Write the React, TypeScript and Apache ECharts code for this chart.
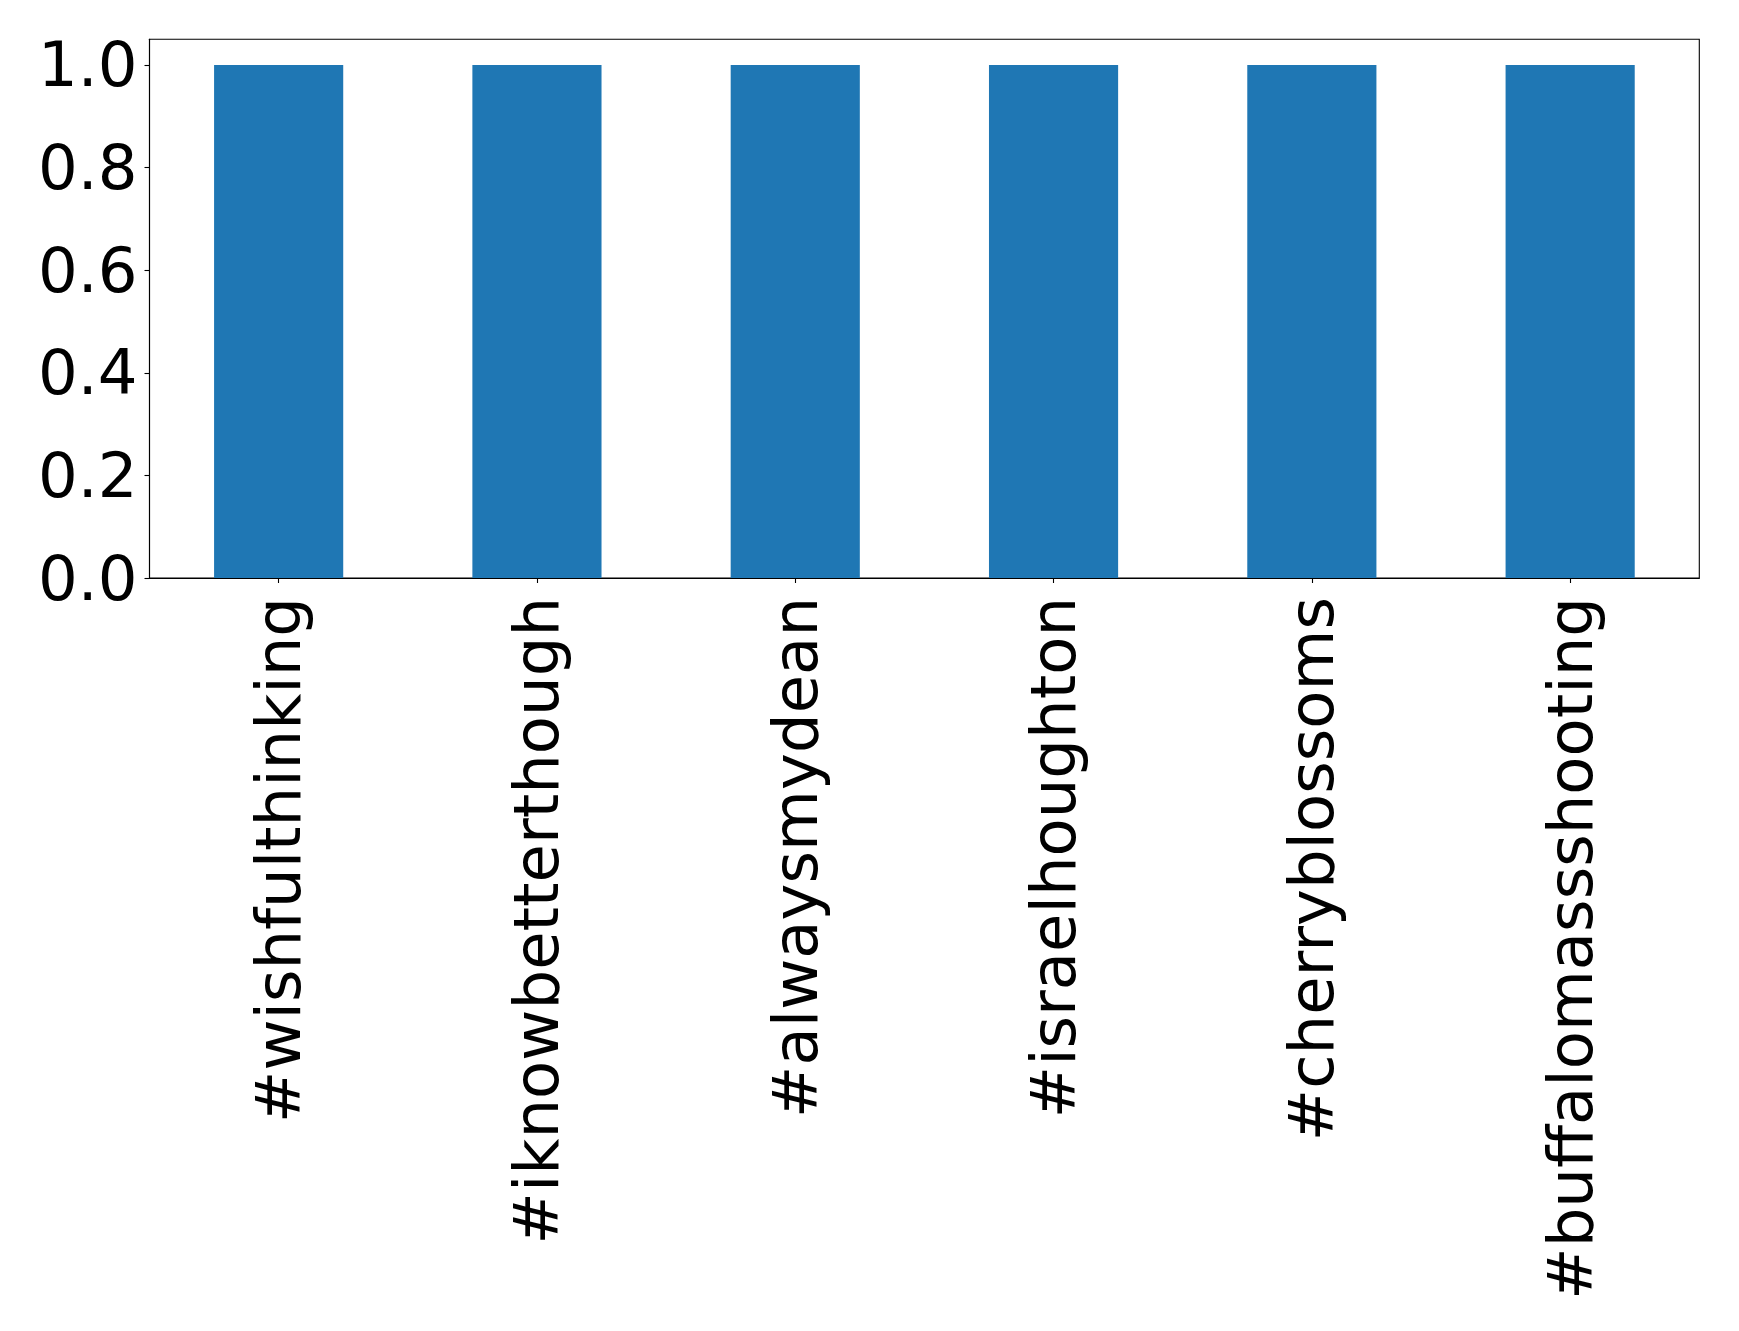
import React, { useEffect, useRef } from "react";
import * as echarts from "echarts";

const categories = [
  "#wishfulthinking",
  "#iknowbetterthough",
  "#alwaysmydean",
  "#israelhoughton",
  "#cherryblossoms",
  "#buffalomassshooting",
];
const values = [1, 1, 1, 1, 1, 1];
const yTicks = [0, 0.2, 0.4, 0.6, 0.8, 1.0];

const FONT = "DejaVu Sans";

export default function App() {
  const ref = useRef<HTMLDivElement>(null);
  useEffect(() => {
    document.body.style.margin = "0";
    const chart = echarts.init(ref.current!, null, { renderer: "svg" });
    chart.setOption({
      animation: false,
      backgroundColor: "#ffffff",
      grid: {
        left: 149.5,
        top: 39.3,
        right: 39.7,
        bottom: 753,
        show: true,
        borderColor: "#000000",
        borderWidth: 1.1,
        backgroundColor: "transparent",
      },
      xAxis: {
        type: "category",
        data: categories,
        boundaryGap: true,
        axisLine: { show: true, lineStyle: { color: "#000", width: 1.1 } },
        axisTick: { show: true, alignWithLabel: true, length: 5, lineStyle: { color: "#000", width: 1.1 } },
        axisLabel: {
          rotate: 90,
          interval: 0,
          margin: 19,
          color: "#000",
          fontFamily: FONT,
          fontSize: 62.5,
        },
        splitLine: { show: false },
      },
      yAxis: {
        type: "value",
        min: 0,
        max: 1.05,
        interval: 0.2,
        axisLine: { show: true, lineStyle: { color: "#000", width: 1.1 } },
        axisTick: { show: true, length: 5, customValues: yTicks, lineStyle: { color: "#000", width: 1.1 } },
        axisLabel: {
          customValues: yTicks,
          margin: 12,
          color: "#000",
          fontFamily: FONT,
          fontSize: 62.5,
          formatter: (v: number) => v.toFixed(1),
        },
        splitLine: { show: false },
      },
      series: [
        {
          type: "bar",
          data: values,
          barWidth: "50%",
          itemStyle: { color: "#1f77b4" },
        },
      ],
    });
    return () => chart.dispose();
  }, []);
  return (
    <div
      ref={ref}
      style={{ position: "absolute", left: 0, top: 0, width: 1739, height: 1331 }}
    />
  );
}
